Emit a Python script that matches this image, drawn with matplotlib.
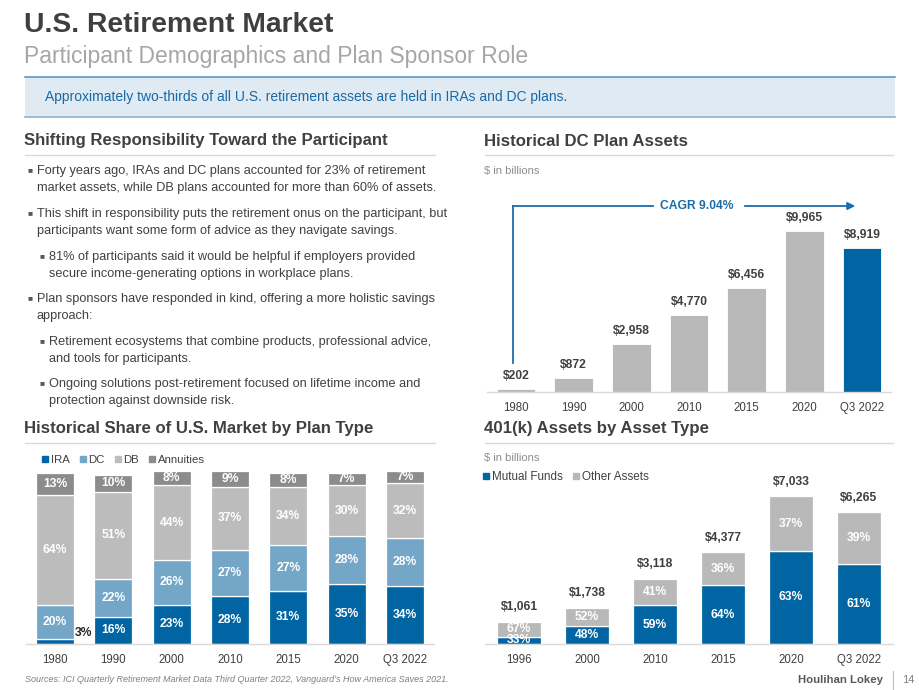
import matplotlib
matplotlib.use("Agg")
import matplotlib.pyplot as plt
from matplotlib.lines import Line2D
from matplotlib.patches import Rectangle, FancyArrowPatch

plt.rcParams['font.family'] = ['Liberation Sans', 'DejaVu Sans']

# ---------------- data ----------------
dc_years = ['1980', '1990', '2000', '2010', '2015', '2020', 'Q3 2022']
dc_assets = [202, 872, 2958, 4770, 6456, 9965, 8919]

share_years = ['1980', '1990', '2000', '2010', '2015', '2020', 'Q3 2022']
ira = [3, 16, 23, 28, 31, 35, 34]
dc = [20, 22, 26, 27, 27, 28, 28]
db = [64, 51, 44, 37, 34, 30, 32]
annuities = [13, 10, 8, 9, 8, 7, 7]
share_labels = ['IRA', 'DC', 'DB', 'Annuities']

k401_years = ['1996', '2000', '2010', '2015', '2020', 'Q3 2022']
k401_total = [1061, 1738, 3118, 4377, 7033, 6265]
mutual_pct = [33, 48, 59, 64, 63, 61]
other_pct = [67, 52, 41, 36, 37, 39]
k401_labels = ['Mutual Funds', 'Other Assets']

bullets = [
    (0, ["Forty years ago, IRAs and DC plans accounted for 23% of retirement",
         "market assets, while DB plans accounted for more than 60% of assets."]),
    (0, ["This shift in responsibility puts the retirement onus on the participant, but",
         "participants want some form of advice as they navigate savings."]),
    (1, ["81% of participants said it would be helpful if employers provided",
         "secure income-generating options in workplace plans."]),
    (0, ["Plan sponsors have responded in kind, offering a more holistic savings",
         "approach:"]),
    (1, ["Retirement ecosystems that combine products, professional advice,",
         "and tools for participants."]),
    (1, ["Ongoing solutions post-retirement focused on lifetime income and",
         "protection against downside risk."]),
]

# ---------------- style ----------------
BLUE = '#0065a2'
LBLUE = '#74a6c8'
GRAY = '#bcbcbc'
DGRAY = '#8c8c8c'
BARGRAY = '#b9b9b9'
TXT = '#404040'
W, H = 920, 690

fig = plt.figure(figsize=(W / 100, H / 100), dpi=100)
fig.patch.set_facecolor('white')


def P(x, y):
    return (x / W, 1 - y / H)


def T(x, y, s, **kw):
    fx, fy = P(x, y)
    kw.setdefault('va', 'center')
    kw.setdefault('ha', 'left')
    kw.setdefault('color', TXT)
    return fig.text(fx, fy, s, **kw)


def HL(x0, x1, y, color='#d9d9d9', lw=1.0):
    a, b = P(x0, y)
    c, d = P(x1, y)
    fig.add_artist(Line2D([a, c], [b, d], transform=fig.transFigure, color=color, lw=lw))


def add_ax(x0, ytop, x1, ybot):
    return fig.add_axes([x0 / W, 1 - ybot / H, (x1 - x0) / W, (ybot - ytop) / H])


# ---------------- header ----------------
T(24, 25, 'U.S. Retirement Market', fontsize=20.3, fontweight='bold', color='#3f3f3f')
T(24, 57, 'Participant Demographics and Plan Sponsor Role', fontsize=16.5, color='#a6a6a6')

bx0, by0 = P(25, 117)
fig.add_artist(Rectangle((bx0, by0), (895 - 25) / W, (117 - 77) / H,
                         transform=fig.transFigure, facecolor='#dfeaf2', edgecolor='none'))
HL(25, 895, 77, color='#5a9acb', lw=1.2)
HL(25, 895, 117, color='#8fb2cf', lw=1.2)
T(45, 97, 'Approximately two-thirds of all U.S. retirement assets are held in IRAs and DC plans.',
  fontsize=10, color='#1769a8')

# section headers
T(24, 141, 'Shifting Responsibility Toward the Participant', fontsize=12.1, fontweight='bold')
HL(25, 435, 155)
T(484, 141, 'Historical DC Plan Assets', fontsize=12.1, fontweight='bold')
HL(485, 893, 155)
T(24, 429, 'Historical Share of U.S. Market by Plan Type', fontsize=12.1, fontweight='bold')
HL(25, 435, 443)
T(484, 429, '401(k) Assets by Asset Type', fontsize=12.1, fontweight='bold')
HL(485, 893, 443)

# bullets
line_y = [171, 188, 214, 231, 257, 274, 299, 316, 342, 359, 384, 401]
k = 0
for level, lines in bullets:
    bxp = 28 if level == 0 else 40
    txp = 37 if level == 0 else 49
    T(bxp, line_y[k], '\u25A0', fontsize=6, color='#595959', family=['Liberation Sans', 'DejaVu Sans'])
    for ln in lines:
        T(txp, line_y[k], ln, fontsize=9.2, color=TXT)
        k += 1

# ---------------- Historical DC Plan Assets ----------------
T(484, 171, '$ in billions', fontsize=8, color='#8c8c8c')
ax1 = add_ax(487, 198, 891, 392)
x1 = list(range(len(dc_years)))
cols1 = [BARGRAY] * (len(dc_years) - 1) + [BLUE]
ax1.bar(x1, dc_assets, width=0.67, color=cols1, edgecolor='white', linewidth=0.6)
for xi, v in zip(x1, dc_assets):
    ax1.annotate(f'${v:,}', (xi, v), xytext=(0, 5), textcoords='offset points',
                 ha='center', va='bottom', fontsize=8.7, fontweight='bold', color=TXT)
ax1.set_xlim(-0.5, len(dc_years) - 0.5)
ax1.set_ylim(0, 12000)
ax1.set_xticks(x1)
ax1.set_xticklabels(dc_years)

# CAGR arrow
CB = '#1b6cab'
a, b = P(513, 363)
c, d = P(513, 206)
fig.add_artist(Line2D([a, c], [b, d], transform=fig.transFigure, color=CB, lw=1.3))
a, b = P(513, 206)
c, d = P(653, 206)
fig.add_artist(Line2D([a, c], [b, d], transform=fig.transFigure, color=CB, lw=1.3))
fig.add_artist(FancyArrowPatch(P(742, 206), P(858, 206), transform=fig.transFigure,
                               arrowstyle='-|>', mutation_scale=11, color=CB, lw=1.3))
T(697, 206, 'CAGR 9.04%', ha='center', fontsize=8.7, fontweight='bold', color=CB)

# ---------------- Historical Share ----------------
ax2 = add_ax(26, 473, 434, 644)
x2 = list(range(len(share_years)))
bottom = [0] * len(x2)
seg_colors = [BLUE, LBLUE, GRAY, DGRAY]
for series, col in zip([ira, dc, db, annuities], seg_colors):
    ax2.bar(x2, series, bottom=bottom, width=0.65, color=col, edgecolor='white',
            linewidth=0.9, clip_on=False)
    for xi, b0, v in zip(x2, bottom, series):
        if v >= 5:
            ax2.text(xi, b0 + v / 2, f'{v}%', ha='center', va='center', fontsize=8.7,
                     fontweight='bold', color='white')
        else:
            ax2.text(xi + 0.34, b0 + v + 3.5, f'{v}%', ha='left', va='center', fontsize=8.7,
                     fontweight='bold', color='#262626')
    bottom = [bb + v for bb, v in zip(bottom, series)]
ax2.set_xlim(-0.5, len(share_years) - 0.5)
ax2.set_ylim(0, 100)
ax2.set_xticks(x2)
ax2.set_xticklabels(share_years)
h2 = [Line2D([], [], marker='s', ls='none', color=c, markersize=3.8) for c in seg_colors]
fig.legend(h2, share_labels, loc='center left', bbox_to_anchor=P(41, 460), ncol=4,
           frameon=False, handletextpad=0.15, columnspacing=0.8, handlelength=0.7,
           borderpad=0, borderaxespad=0, fontsize=8.2, labelcolor=TXT)

# ---------------- 401(k) ----------------
T(484, 458, '$ in billions', fontsize=8, color='#8c8c8c')
ax3 = add_ax(485, 476, 893, 644)
x3 = list(range(len(k401_years)))
mf = [t * p / 100 for t, p in zip(k401_total, mutual_pct)]
ot = [t - m for t, m in zip(k401_total, mf)]
ax3.bar(x3, mf, width=0.66, color=BLUE, edgecolor='white', linewidth=0.9)
ax3.bar(x3, ot, bottom=mf, width=0.66, color=BARGRAY, edgecolor='white', linewidth=0.9)
for xi, m, o, pm, po, t in zip(x3, mf, ot, mutual_pct, other_pct, k401_total):
    ax3.text(xi, m / 2, f'{pm}%', ha='center', va='center', fontsize=8.7, fontweight='bold', color='white')
    ax3.text(xi, m + o / 2, f'{po}%', ha='center', va='center', fontsize=8.7, fontweight='bold', color='white')
    ax3.annotate(f'${t:,}', (xi, t), xytext=(0, 6), textcoords='offset points',
                 ha='center', va='bottom', fontsize=8.7, fontweight='bold', color=TXT)
ax3.set_xlim(-0.5, len(k401_years) - 0.5)
ax3.set_ylim(0, 8000)
ax3.set_xticks(x3)
ax3.set_xticklabels(k401_years)
h3 = [Line2D([], [], marker='s', ls='none', color=c, markersize=3.8) for c in [BLUE, BARGRAY]]
fig.legend(h3, k401_labels, loc='center left', bbox_to_anchor=P(482, 477), ncol=2,
           frameon=False, handletextpad=0.15, columnspacing=0.8, handlelength=0.7,
           borderpad=0, borderaxespad=0, fontsize=8.4, labelcolor=TXT)

for ax in (ax1, ax2, ax3):
    for s in ('top', 'right', 'left'):
        ax.spines[s].set_visible(False)
    ax.spines['bottom'].set_color('#d9d9d9')
    ax.spines['bottom'].set_linewidth(1.0)
    ax.set_yticks([])
    ax.tick_params(axis='x', length=0, pad=7, labelsize=8.3, labelcolor=TXT)
    ax.set_facecolor('none')

# ---------------- footer ----------------
T(25, 679, "Sources: ICI Quarterly Retirement Market Data Third Quarter 2022, Vanguard\u2019s How America Saves 2021.",
  fontsize=6.45, style='italic', color='#7f7f7f')
T(883, 680, 'Houlihan Lokey', ha='right', fontsize=8.2, fontweight='bold', color='#595959')
a, b = P(893, 671)
c, d = P(893, 689)
fig.add_artist(Line2D([a, c], [b, d], transform=fig.transFigure, color='#bfbfbf', lw=0.8))
T(902, 680, '14', fontsize=8, color='#7f7f7f')

fig.savefig('out.png', dpi=100)
